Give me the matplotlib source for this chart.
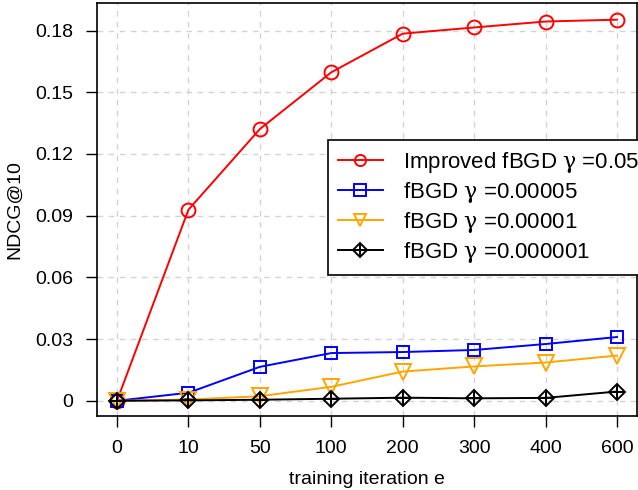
import matplotlib
matplotlib.use("Agg")
import matplotlib.pyplot as plt
from matplotlib.lines import Line2D

plt.rcParams['font.family'] = ['Liberation Sans', 'DejaVu Sans']
plt.rcParams['mathtext.fontset'] = 'dejavuserif'

# training iterations (categorical positions)
iterations = ["0", "10", "50", "100", "200", "300", "400", "600"]

improved_005 = [0.0, 0.0929, 0.1321, 0.1597, 0.1785, 0.1815, 0.1844, 0.1853]
fbgd_5e5 = [0.0, 0.0039, 0.0165, 0.0232, 0.0237, 0.0247, 0.0276, 0.0310]
fbgd_1e5 = [0.0, 0.0006, 0.0022, 0.0068, 0.0142, 0.0167, 0.0186, 0.0220]
fbgd_1e6 = [0.0, 0.0002, 0.0005, 0.0010, 0.0015, 0.0012, 0.0014, 0.0045]

labels = [r"Improved fBGD $\mathrm{\gamma}$ =0.05",
          r"fBGD $\mathrm{\gamma}$ =0.00005",
          r"fBGD $\mathrm{\gamma}$ =0.00001",
          r"fBGD $\mathrm{\gamma}$ =0.000001"]

fig = plt.figure(figsize=(6.38, 4.9), dpi=100)
ax = fig.add_axes([97 / 638, 74 / 490, 540 / 638, 413 / 490])

x = list(range(len(iterations)))
ax.plot(x, improved_005, color="red", lw=1.4, marker="o", ms=10, mfc="none", mew=1.4)
ax.plot(x, fbgd_5e5, color="blue", lw=1.4, marker="s", ms=9, mfc="none", mew=1.4)
ax.plot(x, fbgd_1e5, color="orange", lw=1.4, marker="v", ms=11, mfc="none", mew=1.4)
ax.plot(x, fbgd_1e6, color="black", lw=1.4, marker="D", ms=8.5, mfc="none", mew=1.4)
ax.plot(x, fbgd_1e6, color="none", marker="+", ms=11, mec="black", mew=1.4, ls="none")

ax.set_xlim(-0.28, 7.28)
ax.set_ylim(-0.0074, 0.1934)
ax.set_xticks(x)
ax.set_xticklabels(iterations)
yt = [0, 0.03, 0.06, 0.09, 0.12, 0.15, 0.18]
ax.set_yticks(yt)
ax.set_yticklabels(["0", "0.03", "0.06", "0.09", "0.12", "0.15", "0.18"])
ax.tick_params(direction="out", length=8, width=1, labelsize=14, pad=9)
ax.grid(True, color="#d3d3d3", ls=(0, (4, 4)), lw=1)
for s in ax.spines.values():
    s.set_linewidth(1.2)

ax.set_xlabel("training iteration e", fontsize=14, labelpad=10)
ax.set_ylabel("NDCG@10", fontsize=14, labelpad=9)

handles = [
    Line2D([], [], color="red", lw=1.4, marker="o", ms=8, mfc="none", mew=1.4),
    Line2D([], [], color="blue", lw=1.4, marker="s", ms=8, mfc="none", mew=1.4),
    Line2D([], [], color="orange", lw=1.4, marker="v", ms=9, mfc="none", mew=1.4),
    (Line2D([], [], color="black", lw=1.4, marker="D", ms=7, mfc="none", mew=1.4),
     Line2D([], [], color="none", marker="+", ms=9, mec="black", mew=1.4)),
]
leg = ax.legend(handles, labels, loc="upper left", bbox_to_anchor=(0.428, 0.668),
                fontsize=16, frameon=True, fancybox=False, edgecolor="black",
                framealpha=1, handlelength=2.0, handletextpad=0.9,
                labelspacing=0.22, borderpad=0.45, borderaxespad=0)
leg.get_frame().set_linewidth(1.2)

fig.savefig("out.png", dpi=100)
